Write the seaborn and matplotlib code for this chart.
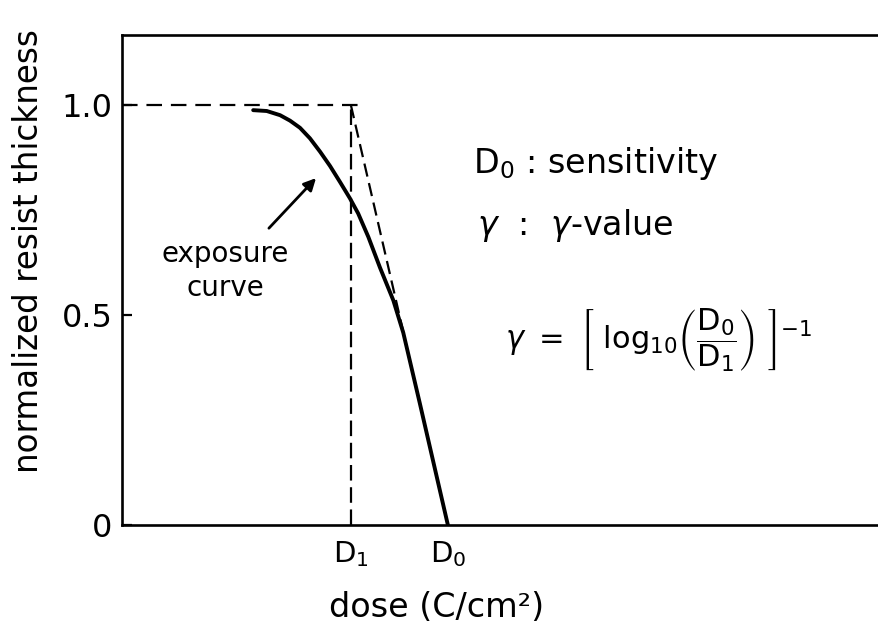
import numpy as np
import pandas as pd
import matplotlib
matplotlib.use("Agg")
import matplotlib.pyplot as plt
import seaborn as sns

# log-dose positions of the two characteristic doses
D1 = 0.944
D0 = 1.344

# exposure curve: normalized remaining thickness vs. log dose
dose_log = [0.541, 0.597, 0.652, 0.693, 0.734, 0.775, 0.817, 0.858, 0.899,
            0.940, 0.974, 1.016, 1.064, 1.119, 1.160, 1.229, 1.298, 1.344]
thickness = [0.988, 0.986, 0.976, 0.963, 0.946, 0.921, 0.889, 0.855, 0.817,
             0.778, 0.742, 0.686, 0.613, 0.535, 0.458, 0.288, 0.115, 0.0]

y_ticks = [0.0, 0.5, 1.0]
y_tick_labels = ["0", "0.5", "1.0"]
x_ticks = [D1, D0]
x_tick_labels = [r"$\mathrm{D_1}$", r"$\mathrm{D_0}$"]

sns.set_theme(style="ticks")
plt.rcParams["font.family"] = ["DejaVu Sans"]
plt.rcParams["mathtext.fontset"] = "dejavusans"
for key in ("text.color", "axes.labelcolor", "xtick.color", "ytick.color", "axes.edgecolor"):
    plt.rcParams[key] = "black"

fig = plt.figure(figsize=(8.79, 6.25), dpi=100)
ax = fig.add_axes([122 / 879, 100 / 625, 757 / 879, 490 / 625])

curve = pd.DataFrame({"dose": dose_log, "thickness": thickness})
sns.lineplot(data=curve, x="dose", y="thickness", sort=False, estimator=None,
             color="black", linewidth=2.8, ax=ax)

dash = dict(color="black", linewidth=1.6, estimator=None, sort=False)
# horizontal reference at full thickness
sns.lineplot(x=[0.0, D1 + 0.045], y=[1.0, 1.0], ax=ax,
             linestyle=(0, (7, 4)), **dash)
# vertical guide at D1
sns.lineplot(x=[D1, D1], y=[0.0, 1.0], ax=ax,
             linestyle=(0, (7, 3)), **dash)
# tangent of the linear part, from (D1, 1) towards (D0, 0)
t_end = 0.46
sns.lineplot(x=[D1, D1 + (D0 - D1) * (1 - t_end)], y=[1.0, t_end], ax=ax,
             linestyle=(0, (6, 3)), **dash)

ax.set_xlim(0, 3.122)
ax.set_ylim(0, 1.167)

ax.set_yticks(y_ticks)
ax.set_yticklabels(y_tick_labels, fontsize=23)
ax.tick_params(axis="y", direction="in", length=7, width=1.6, pad=7)

ax.set_xticks(x_ticks)
ax.set_xticklabels(x_tick_labels, fontsize=21)
ax.tick_params(axis="x", length=0, pad=10)

ax.set_xlabel("dose (C/cm²)", fontsize=24)
ax.xaxis.set_label_coords(0.416, -0.135)
ax.set_ylabel("normalized resist thickness", fontsize=23.5)
ax.yaxis.set_label_coords(-0.102, 0.56)

for side in ("left", "top", "bottom"):
    ax.spines[side].set_linewidth(1.9)
ax.spines["right"].set_visible(False)

ax.text(0.425, 0.605, "exposure\ncurve", fontsize=20, ha="center", va="center",
        linespacing=1.25)
ax.annotate("", xy=(0.808, 0.831), xytext=(0.598, 0.702),
            arrowprops=dict(arrowstyle="-|>", color="black", lw=2.0,
                            mutation_scale=18))

ax.text(1.447, 0.862, r"$\mathrm{D_0}$ : sensitivity", fontsize=24, va="center")
ax.text(1.466, 0.714, r"$\gamma$  :  $\gamma$-value", fontsize=24, va="center")
ax.text(1.579, 0.44,
        r"$\gamma\ =\ \left[\ \mathrm{log_{10}}\left(\dfrac{\mathrm{D_0}}{\mathrm{D_1}}\right)\ \right]^{-1}$",
        fontsize=22, va="center")

fig.savefig("out.png", dpi=100)
